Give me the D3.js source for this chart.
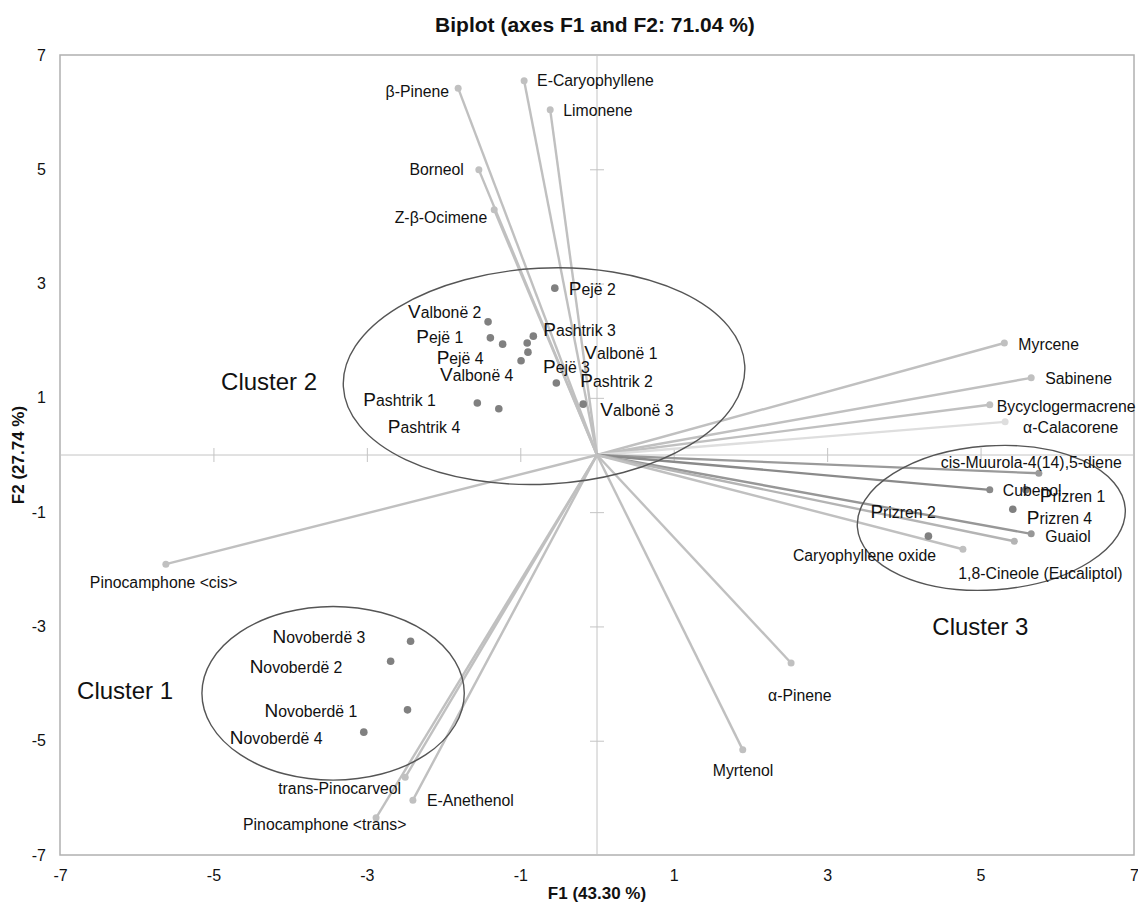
<!DOCTYPE html>
<html>
<head>
<meta charset="utf-8">
<script src="https://cdn.jsdelivr.net/npm/d3@7"></script>
<style>
  html, body { margin: 0; padding: 0; background: #fff; }
  svg { display: block; font-family: "Liberation Sans", Arial, Helvetica, sans-serif; }
</style>
</head>
<body>
<svg id="chart" width="1138" height="904"></svg>
<script>
// ---- Data -----------------------------------------------------------
// Active variables (loadings on F1 / F2)
const varNames = [
  "β-Pinene", "E-Caryophyllene", "Limonene", "Borneol", "Z-β-Ocimene",
  "Myrcene", "Sabinene", "Bycyclogermacrene", "α-Calacorene",
  "cis-Muurola-4(14),5-diene", "Cubenol", "Guaiol", "1,8-Cineole (Eucaliptol)",
  "Caryophyllene oxide", "Pinocamphone <cis>", "α-Pinene", "Myrtenol",
  "trans-Pinocarveol", "E-Anethenol", "Pinocamphone <trans>"
];
const varF1 = [-1.81, -0.95, -0.61, -1.54, -1.34, 5.31, 5.66, 5.12, 5.32, 5.76,
               5.12, 5.66, 5.44, 4.77, -5.62, 2.53, 1.90, -2.50, -2.40, -2.88];
const varF2 = [6.42, 6.55, 6.04, 4.99, 4.29, 1.96, 1.35, 0.88, 0.58, -0.32,
               -0.61, -1.38, -1.51, -1.65, -1.91, -3.64, -5.16, -5.64, -6.04, -6.35];

// Observations (factor scores on F1 / F2)
const obsNames = [
  "Pejë 2", "Valbonë 2", "Pejë 1", "Pejë 4", "Valbonë 4", "Pashtrik 3",
  "Valbonë 1", "Pejë 3", "Pashtrik 2", "Valbonë 3", "Pashtrik 1", "Pashtrik 4",
  "Prizren 1", "Prizren 4", "Prizren 2",
  "Novoberdë 3", "Novoberdë 2", "Novoberdë 1", "Novoberdë 4"
];
const obsF1 = [-0.55, -1.42, -1.39, -1.23, -0.99, -0.83, -0.91, -0.90, -0.53, -0.18,
               -1.56, -1.28, 5.59, 5.42, 4.32, -2.43, -2.69, -2.47, -3.04];
const obsF2 = [2.92, 2.33, 2.05, 1.94, 1.65, 2.08, 1.96, 1.80, 1.26, 0.89,
               0.91, 0.81, -0.61, -0.95, -1.42, -3.26, -3.61, -4.46, -4.85];

// Cluster ellipses (centre and semi-axes in factor units)
const clusterNames = ["Cluster 1", "Cluster 2", "Cluster 3"];
const clusterCx = [-3.44, -0.69, 5.14];
const clusterCy = [-4.17, 1.38, -1.10];
const clusterRx = [1.71, 2.62, 1.75];
const clusterRy = [1.52, 1.89, 1.26];

// Axis ticks
const frameTicks = [-7, -5, -3, -1, 1, 3, 5, 7];
const innerTicks = [-5, -3, -1, 1, 3, 5];

const titleText = "Biplot (axes F1 and F2: 71.04 %)";
const xTitle = "F1 (43.30 %)";
const yTitle = "F2 (27.74 %)";

// ---- Layout / style -------------------------------------------------
const W = 1138, H = 904;
const plot = { left: 60, right: 1134, top: 55, bottom: 855 };

// label placement (pixel offsets from each mark)
const varLabelPos = {
  "β-Pinene": [-9, 3, "end"],
  "E-Caryophyllene": [13, 0, "start"],
  "Limonene": [13, 1, "start"],
  "Borneol": [-15, 0, "end"],
  "Z-β-Ocimene": [-7, 8, "end"],
  "Myrcene": [14, 1, "start"],
  "Sabinene": [14, 1, "start"],
  "Bycyclogermacrene": [7, 2, "start"],
  "α-Calacorene": [18, 6, "start"],
  "cis-Muurola-4(14),5-diene": [-98, -11, "start"],
  "Cubenol": [13, 1, "start"],
  "Guaiol": [14, 3, "start"],
  "1,8-Cineole (Eucaliptol)": [-56, 32, "start"],
  "Caryophyllene oxide": [-170, 6, "start"],
  "Pinocamphone <cis>": [-76, 18, "start"],
  "α-Pinene": [-23, 32, "start"],
  "Myrtenol": [-30, 21, "start"],
  "trans-Pinocarveol": [-127, 11, "start"],
  "E-Anethenol": [14, 0, "start"],
  "Pinocamphone <trans>": [-133, 7, "start"]
};
const obsLabelPos = {
  "Pejë 2": [14, 1], "Valbonë 2": [-80, -9], "Pejë 1": [-74, 0], "Pejë 4": [-66, 14],
  "Valbonë 4": [-81, 15], "Pashtrik 3": [10, -6], "Valbonë 1": [57, 10],
  "Pejë 3": [15, 15], "Pashtrik 2": [24, -2], "Valbonë 3": [17, 6],
  "Pashtrik 1": [-114, -3], "Pashtrik 4": [-111, 19],
  "Prizren 1": [14, 7], "Prizren 4": [14, 9], "Prizren 2": [-58, -24],
  "Novoberdë 3": [-138, -4], "Novoberdë 2": [-141, 6],
  "Novoberdë 1": [-143, 2], "Novoberdë 4": [-134, 6]
};
const clusterLabelPos = [[-256, -3], [-323, 5], [-59, 109]];
const clusterTilt = [0, -3, -4];

const vectorColor = {
  "α-Calacorene": "#dedede",
  "cis-Muurola-4(14),5-diene": "#9a9a9a",
  "Cubenol": "#8a8a8a",
  "Guaiol": "#979797",
  "1,8-Cineole (Eucaliptol)": "#b4b4b4"
};
const defaultVectorColor = "#c0c0c0";

// ---- Scales ----------------------------------------------------------
const x = d3.scaleLinear().domain([-7, 7]).range([plot.left, plot.right]);
const y = d3.scaleLinear().domain([-7, 7]).range([plot.bottom, plot.top]);

const svg = d3.select("#chart");
svg.append("rect").attr("width", W).attr("height", H).attr("fill", "#fff");

// Frame
svg.append("rect")
  .attr("x", plot.left).attr("y", plot.top)
  .attr("width", plot.right - plot.left).attr("height", plot.bottom - plot.top)
  .attr("fill", "none").attr("stroke", "#b0b0b0").attr("stroke-width", 1.5);

// Zero lines
svg.append("line")
  .attr("x1", plot.left).attr("x2", plot.right)
  .attr("y1", y(0)).attr("y2", y(0))
  .attr("stroke", "#c4c4c4").attr("stroke-width", 1);
svg.append("line")
  .attr("x1", x(0)).attr("x2", x(0))
  .attr("y1", plot.top).attr("y2", plot.bottom)
  .attr("stroke", "#c4c4c4").attr("stroke-width", 1);

// Tick crosses on the zero lines
function crossTicks(axisGen, transform) {
  const g = svg.append("g").attr("transform", transform)
    .call(axisGen.tickValues(innerTicks).tickSizeInner(7).tickSizeOuter(0).tickFormat(""));
  g.select(".domain").remove();
  g.selectAll(".tick line").attr("stroke", "#c4c4c4").attr("stroke-width", 1);
}
crossTicks(d3.axisBottom(x), `translate(0,${y(0)})`);
crossTicks(d3.axisTop(x), `translate(0,${y(0)})`);
crossTicks(d3.axisLeft(y), `translate(${x(0)},0)`);
crossTicks(d3.axisRight(y), `translate(${x(0)},0)`);

// Frame tick labels
const gx = svg.append("g").attr("transform", `translate(0,${plot.bottom})`)
  .call(d3.axisBottom(x).tickValues(frameTicks).tickSize(0).tickPadding(15)
        .tickFormat(d => String(d)));
gx.select(".domain").remove();
gx.selectAll("text").attr("font-size", 16).attr("fill", "#111")
  .attr("font-family", "'Liberation Sans', Arial, sans-serif");

const gy = svg.append("g").attr("transform", `translate(${plot.left},0)`)
  .call(d3.axisLeft(y).tickValues(frameTicks).tickSize(0).tickPadding(14)
        .tickFormat(d => String(d)));
gy.select(".domain").remove();
gy.selectAll("text").attr("font-size", 16).attr("fill", "#111")
  .attr("font-family", "'Liberation Sans', Arial, sans-serif");

// Titles
svg.append("text").attr("x", 595).attr("y", 25).attr("dy", "0.35em")
  .attr("text-anchor", "middle").attr("font-weight", "bold").attr("font-size", 21)
  .attr("fill", "#111").text(titleText);
svg.append("text").attr("x", x(0)).attr("y", 893).attr("dy", "0.35em")
  .attr("text-anchor", "middle").attr("font-weight", "bold").attr("font-size", 17)
  .attr("fill", "#111").text(xTitle);
svg.append("text").attr("transform", `translate(18,${y(0)}) rotate(-90)`)
  .attr("dy", "0.35em")
  .attr("text-anchor", "middle").attr("font-weight", "bold").attr("font-size", 17)
  .attr("fill", "#111").text(yTitle);

// Variable vectors
const vars = varNames.map((n, i) => ({ name: n, f1: varF1[i], f2: varF2[i] }));
const vg = svg.append("g");
vg.selectAll("line").data(vars).join("line")
  .attr("x1", x(0)).attr("y1", y(0))
  .attr("x2", d => x(d.f1)).attr("y2", d => y(d.f2))
  .attr("stroke", d => vectorColor[d.name] || defaultVectorColor)
  .attr("stroke-width", 2.4);
vg.selectAll("circle").data(vars).join("circle")
  .attr("cx", d => x(d.f1)).attr("cy", d => y(d.f2)).attr("r", 3.5)
  .attr("fill", d => vectorColor[d.name] || defaultVectorColor);

// Cluster ellipses
const clusters = clusterNames.map((n, i) => ({
  name: n, cx: clusterCx[i], cy: clusterCy[i], rx: clusterRx[i], ry: clusterRy[i], i
}));
svg.append("g").selectAll("ellipse").data(clusters).join("ellipse")
  .attr("transform", d => `translate(${x(d.cx)},${y(d.cy)}) rotate(${clusterTilt[d.i]})`)
  .attr("rx", d => x(d.cx + d.rx) - x(d.cx))
  .attr("ry", d => y(d.cy) - y(d.cy + d.ry))
  .attr("fill", "none").attr("stroke", "#555").attr("stroke-width", 1.4);

svg.append("g").selectAll("text").data(clusters).join("text")
  .attr("x", d => x(d.cx) + clusterLabelPos[d.i][0])
  .attr("y", d => y(d.cy) + clusterLabelPos[d.i][1])
  .attr("dy", "0.35em").attr("font-size", 24).attr("fill", "#111")
  .text(d => d.name);

// Observation points
const obs = obsNames.map((n, i) => ({ name: n, f1: obsF1[i], f2: obsF2[i] }));
svg.append("g").selectAll("circle").data(obs).join("circle")
  .attr("cx", d => x(d.f1)).attr("cy", d => y(d.f2)).attr("r", 3.8)
  .attr("fill", "#808080");

// Variable labels
svg.append("g").selectAll("text").data(vars).join("text")
  .attr("x", d => x(d.f1) + varLabelPos[d.name][0])
  .attr("y", d => y(d.f2) + varLabelPos[d.name][1])
  .attr("dy", "0.35em")
  .attr("text-anchor", d => varLabelPos[d.name][2])
  .attr("font-size", 15.8).attr("fill", "#111")
  .text(d => d.name);

// Observation labels (initial letter set larger)
const ol = svg.append("g").selectAll("text").data(obs).join("text")
  .attr("x", d => x(d.f1) + obsLabelPos[d.name][0])
  .attr("y", d => y(d.f2) + obsLabelPos[d.name][1])
  .attr("dy", "0.35em").attr("fill", "#111");
ol.append("tspan").attr("font-size", 19).text(d => d.name.charAt(0));
ol.append("tspan").attr("font-size", 15.8).text(d => d.name.slice(1));
</script>
</body>
</html>
